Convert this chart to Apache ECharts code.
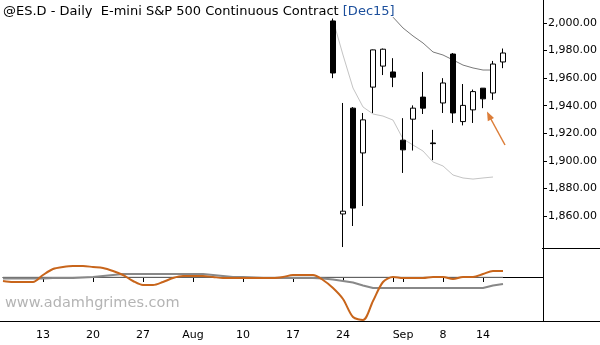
<!DOCTYPE html>
<html><head><meta charset="utf-8">
<script src="https://cdn.jsdelivr.net/npm/echarts@6/dist/echarts.min.js"></script>
<style>html,body{margin:0;padding:0;background:#fff}#c{width:600px;height:345px}</style>
</head><body><div id="c"></div>
<script>
// trading-day categories (incl. a few empty future days on the right)
const dates = [
 "2015-07-07","2015-07-08","2015-07-09","2015-07-10","2015-07-13","2015-07-14","2015-07-15","2015-07-16","2015-07-17",
 "2015-07-20","2015-07-21","2015-07-22","2015-07-23","2015-07-24","2015-07-27","2015-07-28","2015-07-29","2015-07-30","2015-07-31",
 "2015-08-03","2015-08-04","2015-08-05","2015-08-06","2015-08-07","2015-08-10","2015-08-11","2015-08-12","2015-08-13","2015-08-14",
 "2015-08-17","2015-08-18","2015-08-19","2015-08-20","2015-08-21","2015-08-24","2015-08-25","2015-08-26","2015-08-27","2015-08-28",
 "2015-08-31","2015-09-01","2015-09-02","2015-09-03","2015-09-04","2015-09-08","2015-09-09","2015-09-10","2015-09-11",
 "2015-09-14","2015-09-15","2015-09-16","2015-09-17","2015-09-18","2015-09-21","2015-09-22"];

// x-axis ticks and labels
const tickDates  = ["2015-07-13","2015-07-20","2015-07-27","2015-08-03","2015-08-10","2015-08-17","2015-08-24","2015-08-31","2015-09-01","2015-09-08","2015-09-14"];
const tickLabels = ["13","20","27","Aug","10","17","24","","Sep","8","14"];

// price axis labels
const priceTicks = [1860,1880,1900,1920,1940,1960,1980,2000];

// candles
const candleDates = ["2015-08-21","2015-08-24","2015-08-25","2015-08-26","2015-08-27","2015-08-28","2015-08-31","2015-09-01","2015-09-02",
 "2015-09-03","2015-09-04","2015-09-08","2015-09-09","2015-09-10","2015-09-11","2015-09-14","2015-09-15","2015-09-16"];
const opens  = [2001.5,1861.5,1938.25,1905.75,1953.5,1968.75,1964.5,1915,1930.25,1946.25,1913,1942,1977.5,1928.5,1937,1952.75,1949.25,1971.75];
const closes = [1963.75,1863.5,1865.75,1929.75,1980.5,1981,1960.75,1908,1938.25,1938.25,1912.5,1956.5,1934.75,1940.25,1950.25,1945,1970.25,1978.25];
const lows   = [1960,1837.5,1852.75,1867.25,1934.75,1962.25,1953.5,1891.25,1907.5,1934,1900.5,1934.75,1927.5,1925.75,1927.5,1938.25,1944.25,1967.25];
const highs  = [2003.25,1942,1939,1934.75,1980.75,1981.5,1974.5,1931,1940.25,1964.5,1922.5,1960,1978.25,1955.75,1951.75,1952.75,1972.5,1981.5];

// channel lines
const upperDates = ["2015-08-31","2015-09-01","2015-09-02","2015-09-03","2015-09-04","2015-09-08","2015-09-09","2015-09-10","2015-09-11","2015-09-14","2015-09-15"];
const upperBand  = [2004.25,1996.4,1990.6,1985.5,1979,1976.8,1973.2,1969.5,1967.4,1965.9,1965.9];
const lowerDates = ["2015-08-21","2015-08-24","2015-08-25","2015-08-26","2015-08-27","2015-08-28","2015-08-31","2015-09-01","2015-09-02",
 "2015-09-03","2015-09-04","2015-09-08","2015-09-09","2015-09-10","2015-09-11","2015-09-14","2015-09-15"];
const lowerBand  = [2002.2,1976.8,1952.85,1939.1,1934,1932.5,1929.6,1915.9,1911.5,1907.15,1899.2,1896.3,1889.75,1887.6,1886.8,1887.6,1888.3];

// lower-panel oscillator (from 2015-07-07 to 2015-09-16)
const oscFast = [-4,-5,-5,-5,2,8,10,11,11,10,9,6,2,-4,-8,-8,-5,-1,1,1,1,0,-1,-1,-1,-1,-1,-1,0,2,2,2,-3,-11,-22,-40,-43,-24,-5,0,-1,-1,-1,0,0,-2,0,0,3,6,6];
const oscSlow = [-1.5,-1.5,-1.5,-1.5,-1.5,-1,-1,-1,-0.5,0,1,2,3,3,3,3,3,3,3,3,3,2,1,0,0,-0.5,-1,-1,-1,-1,-1,-1,-1.5,-2.5,-4,-5.5,-8.5,-11,-11,-11,-11,-11,-11,-11,-11,-11,-11,-11,-11,-8.5,-7];

const idx = {}; dates.forEach((d,i)=>idx[d]=i);
const candleData = dates.map(()=>['-','-','-','-']);
candleDates.forEach((d,k)=>{candleData[idx[d]]=[opens[k],closes[k],lows[k],highs[k]];});
const upperData = dates.map(()=>null); upperDates.forEach((d,k)=>upperData[idx[d]]=upperBand[k]);
const lowerData = dates.map(()=>null); lowerDates.forEach((d,k)=>lowerData[idx[d]]=lowerBand[k]);
const fastData = dates.map((d,i)=> i<oscFast.length ? oscFast[i] : null);
const slowData = dates.map((d,i)=> i<oscSlow.length ? oscSlow[i] : null);
const zeroData = dates.map((d,i)=> i<oscFast.length ? 0 : null);

const tickSet = new Set(tickDates);
const labelMap = {}; tickDates.forEach((d,k)=>labelMap[d]=tickLabels[k]);
const FONT = 'DejaVu Sans';
const fmt = v => v.toLocaleString('en-US',{minimumFractionDigits:2,maximumFractionDigits:2});

const chart = echarts.init(document.getElementById('c'), null, {renderer:'canvas'});
chart.setOption({
  animation:false,
  backgroundColor:'#fff',
  title:{
    left:3, top:5, padding:0,
    text:'{a|@ES.D - Daily  E-mini S&P 500 Continuous Contract }{b|[Dec15]}',
    textStyle:{fontWeight:'normal', rich:{
      a:{fontFamily:FONT,fontSize:13,fontWeight:'normal',color:'#000'},
      b:{fontFamily:FONT,fontSize:13,fontWeight:'normal',color:'#1c4f9c'}
    }}
  },
  grid:[
    {left:3, width:540, top:0, height:248},
    {left:3, width:540, top:248, height:73}
  ],
  xAxis:[
    {type:'category', gridIndex:0, data:dates, boundaryGap:false,
     axisLine:{show:false}, axisTick:{show:false}, axisLabel:{show:false}, splitLine:{show:false}},
    {type:'category', gridIndex:1, data:dates, boundaryGap:false,
     axisLine:{show:true, lineStyle:{color:'#000',width:1}},
     axisTick:{show:true, length:5, interval:(i,v)=>tickSet.has(v), lineStyle:{color:'#000'}},
     axisLabel:{show:true, interval:(i,v)=>tickSet.has(v) && labelMap[v]!=='', formatter:v=>labelMap[v]||'',
       color:'#000', fontFamily:FONT, fontSize:11, margin:9},
     splitLine:{show:false}}
  ],
  yAxis:[
    {type:'value', gridIndex:0, position:'right', min:1836.8, max:2016.7, scale:true,
     axisLine:{show:true, lineStyle:{color:'#000',width:1}},
     axisTick:{show:true, length:4, inside:false, customValues:priceTicks, lineStyle:{color:'#000'}},
     axisLabel:{show:true, customValues:priceTicks, formatter:fmt, color:'#000', fontFamily:FONT, fontSize:11, margin:5},
     splitLine:{show:false}},
    {type:'value', gridIndex:1, position:'right', min:-44, max:29,
     axisLine:{show:true, lineStyle:{color:'#000',width:1}},
     axisTick:{show:false}, axisLabel:{show:false}, splitLine:{show:false}}
  ],
  series:[
    {type:'line', xAxisIndex:0, yAxisIndex:0, data:upperData, showSymbol:false, connectNulls:false,
     lineStyle:{color:'#7a7a7a', width:1}, z:1},
    {type:'line', xAxisIndex:0, yAxisIndex:0, data:lowerData, showSymbol:false,
     lineStyle:{color:'#c4c4c4', width:1}, z:1},
    {type:'candlestick', xAxisIndex:0, yAxisIndex:0, data:candleData, barWidth:6,
     itemStyle:{color:'#fff', color0:'#000', borderColor:'#000', borderColor0:'#000', borderWidth:1}, z:3},
    {type:'line', xAxisIndex:1, yAxisIndex:1, data:zeroData, showSymbol:false,
     lineStyle:{color:'#c4c4c4', width:1}, z:1},
    {type:'line', xAxisIndex:1, yAxisIndex:1, data:slowData, showSymbol:false,
     lineStyle:{color:'#888888', width:2}, z:2},
    {type:'line', xAxisIndex:1, yAxisIndex:1, data:fastData, showSymbol:false, smooth:0.3,
     lineStyle:{color:'#c8651b', width:2}, z:3}
  ],
  graphic:[
    {type:'line', shape:{x1:0,y1:321.5,x2:600,y2:321.5}, style:{stroke:'#000',lineWidth:1}, z:10},
    {type:'line', shape:{x1:542,y1:248.5,x2:600,y2:248.5}, style:{stroke:'#000',lineWidth:1}, z:10},
    {type:'text', left:5, top:296, style:{text:'www.adamhgrimes.com', fill:'#b4b4b4', font:'14.5px "DejaVu Sans"'}, z:10},
    {type:'line', shape:{x1:505,y1:145,x2:489.5,y2:116.5}, style:{stroke:'#dc7d38',lineWidth:1.5}, z:10},
    {type:'polygon', shape:{points:[[487,111.5],[494,118],[487.8,121.2]]}, style:{fill:'#dc7d38'}, z:10}
  ]
});
</script></body></html>
